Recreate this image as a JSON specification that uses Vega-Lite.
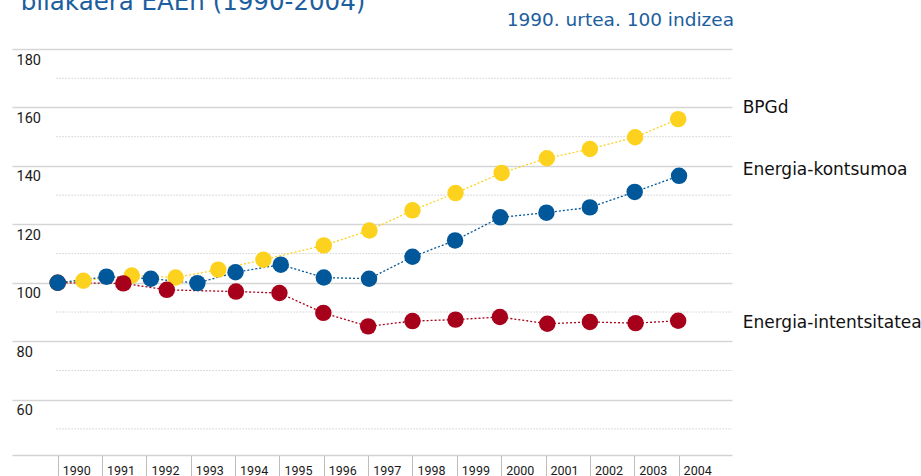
{
  "$schema": "https://vega.github.io/schema/vega-lite/v6.json",
  "width": 720,
  "height": 406,
  "autosize": "none",
  "padding": {"left": 12, "top": 49, "right": 189, "bottom": 21},
  "background": "white",
  "config": {"view": {"stroke": null}, "font": "Roboto"},
  "datasets": {
    "series": [
      {"series": "BPGd", "year": 1990, "value": 100},
      {"series": "BPGd", "year": 1990.58, "value": 100.7},
      {"series": "BPGd", "year": 1991.67, "value": 102.5},
      {"series": "BPGd", "year": 1992.66, "value": 101.8},
      {"series": "BPGd", "year": 1993.62, "value": 104.5},
      {"series": "BPGd", "year": 1994.64, "value": 107.9},
      {"series": "BPGd", "year": 1996.0, "value": 112.8},
      {"series": "BPGd", "year": 1997.03, "value": 117.9},
      {"series": "BPGd", "year": 1998.0, "value": 124.8},
      {"series": "BPGd", "year": 1998.97, "value": 130.7},
      {"series": "BPGd", "year": 2000.01, "value": 137.6},
      {"series": "BPGd", "year": 2001.03, "value": 142.6},
      {"series": "BPGd", "year": 2002.0, "value": 145.8},
      {"series": "BPGd", "year": 2003.02, "value": 149.8},
      {"series": "BPGd", "year": 2003.99, "value": 156.0},
      {"series": "Energia-intentsitatea", "year": 1990, "value": 100},
      {"series": "Energia-intentsitatea", "year": 1991.48, "value": 99.8},
      {"series": "Energia-intentsitatea", "year": 1992.46, "value": 97.6},
      {"series": "Energia-intentsitatea", "year": 1994.02, "value": 97.0},
      {"series": "Energia-intentsitatea", "year": 1995.0, "value": 96.5},
      {"series": "Energia-intentsitatea", "year": 1995.99, "value": 89.7},
      {"series": "Energia-intentsitatea", "year": 1997.0, "value": 85.1},
      {"series": "Energia-intentsitatea", "year": 1998.0, "value": 86.9},
      {"series": "Energia-intentsitatea", "year": 1998.97, "value": 87.4},
      {"series": "Energia-intentsitatea", "year": 1999.97, "value": 88.3},
      {"series": "Energia-intentsitatea", "year": 2001.04, "value": 86.0},
      {"series": "Energia-intentsitatea", "year": 2002.0, "value": 86.6},
      {"series": "Energia-intentsitatea", "year": 2003.03, "value": 86.2},
      {"series": "Energia-intentsitatea", "year": 2003.99, "value": 87.0},
      {"series": "Energia-kontsumoa", "year": 1990, "value": 100},
      {"series": "Energia-kontsumoa", "year": 1991.1, "value": 102.1},
      {"series": "Energia-kontsumoa", "year": 1992.1, "value": 101.4},
      {"series": "Energia-kontsumoa", "year": 1993.15, "value": 99.9},
      {"series": "Energia-kontsumoa", "year": 1994.01, "value": 103.6},
      {"series": "Energia-kontsumoa", "year": 1995.03, "value": 106.2},
      {"series": "Energia-kontsumoa", "year": 1996.0, "value": 101.8},
      {"series": "Energia-kontsumoa", "year": 1997.02, "value": 101.4},
      {"series": "Energia-kontsumoa", "year": 1998.0, "value": 108.9},
      {"series": "Energia-kontsumoa", "year": 1998.96, "value": 114.5},
      {"series": "Energia-kontsumoa", "year": 1999.98, "value": 122.4},
      {"series": "Energia-kontsumoa", "year": 2001.02, "value": 124.0},
      {"series": "Energia-kontsumoa", "year": 2002.0, "value": 125.8},
      {"series": "Energia-kontsumoa", "year": 2003.01, "value": 131.1},
      {"series": "Energia-kontsumoa", "year": 2004.01, "value": 136.6}
    ],
    "minorGrid": [
      {"value": 50}, {"value": 70}, {"value": 90}, {"value": 110},
      {"value": 130}, {"value": 150}, {"value": 170}
    ],
    "labels": [
      {"series": "BPGd", "value": 158.1},
      {"series": "Energia-kontsumoa", "value": 137.0},
      {"series": "Energia-intentsitatea", "value": 84.5}
    ],
    "titles": [
      {"text": "bilakaera EAEn (1990-2004)"}
    ],
    "subtitle": [
      {"text": "1990. urtea. 100 indizea"}
    ]
  },
  "layer": [
    {
      "data": {"name": "minorGrid"},
      "mark": {"type": "rule", "color": "#cfcfcf", "strokeWidth": 1, "strokeDash": [1.5, 1.5]},
      "encoding": {
        "y": {"field": "value", "type": "quantitative",
          "scale": {"domain": [41.08, 180], "nice": false, "zero": false},
          "axis": {"title": null, "values": [60, 80, 100, 120, 140, 160, 180], "grid": true, "gridColor": "#d5d5d5", "gridWidth": 1.5, "domain": false, "ticks": false, "tickSize": 0, "labelAlign": "left", "labelBaseline": "top", "labelPadding": -4, "labelOffset": 4, "labelFont": "Roboto", "labelFontSize": 14.5, "labelColor": "#1a1a1a"}},
        "x": {"datum": 1989.97, "type": "quantitative",
          "scale": {"domain": [1988.97, 2005.204], "nice": false, "zero": false},
          "axis": {"title": null, "values": [1990, 1991, 1992, 1993, 1994, 1995, 1996, 1997, 1998, 1999, 2000, 2001, 2002, 2003, 2004], "format": "d", "grid": false, "domain": true, "domainColor": "#d3d3d3", "domainWidth": 1.5, "ticks": true, "tickSize": 21, "tickColor": "#bdbdbd", "tickWidth": 1, "labelAlign": "left", "labelBaseline": "top", "labelPadding": -12, "labelOffset": 4.5, "labelFont": "Roboto", "labelFontSize": 12.5, "labelColor": "#1a1a1a", "labelFlush": false, "labelOverlap": false}},
        "x2": {"datum": 2005.204}
      }
    },
    {
      "data": {"name": "series"},
      "mark": {"type": "line", "strokeWidth": 1.3, "strokeDash": [2, 2]},
      "encoding": {
        "x": {"field": "year", "type": "quantitative"},
        "y": {"field": "value", "type": "quantitative"},
        "color": {"field": "series", "type": "nominal", "legend": null,
          "scale": {"domain": ["BPGd", "Energia-kontsumoa", "Energia-intentsitatea"], "range": ["#fdd21e", "#00579a", "#a6001a"]}}
      }
    },
    {
      "data": {"name": "series"},
      "mark": {"type": "circle", "size": 270, "opacity": 1},
      "encoding": {
        "x": {"field": "year", "type": "quantitative"},
        "y": {"field": "value", "type": "quantitative"},
        "color": {"field": "series", "type": "nominal", "legend": null}
      }
    },
    {
      "data": {"name": "labels"},
      "mark": {"type": "text", "align": "left", "baseline": "alphabetic", "font": "DejaVu Sans", "fontSize": 17, "color": "#111111"},
      "encoding": {
        "x": {"datum": 2005.445, "type": "quantitative"},
        "y": {"field": "value", "type": "quantitative"},
        "text": {"field": "series"}
      }
    },
    {
      "data": {"name": "titles"},
      "mark": {"type": "text", "align": "left", "baseline": "alphabetic", "font": "DejaVu Sans", "fontSize": 24.5, "color": "#1c5e9e"},
      "encoding": {
        "x": {"datum": 1989.166, "type": "quantitative"},
        "y": {"datum": 193.45, "type": "quantitative"},
        "text": {"field": "text"}
      }
    },
    {
      "data": {"name": "subtitle"},
      "mark": {"type": "text", "align": "right", "baseline": "alphabetic", "font": "DejaVu Sans", "fontSize": 18.5, "color": "#1c5e9e"},
      "encoding": {
        "x": {"datum": 2005.25, "type": "quantitative"},
        "y": {"datum": 187.7, "type": "quantitative"},
        "text": {"field": "text"}
      }
    }
  ]
}
